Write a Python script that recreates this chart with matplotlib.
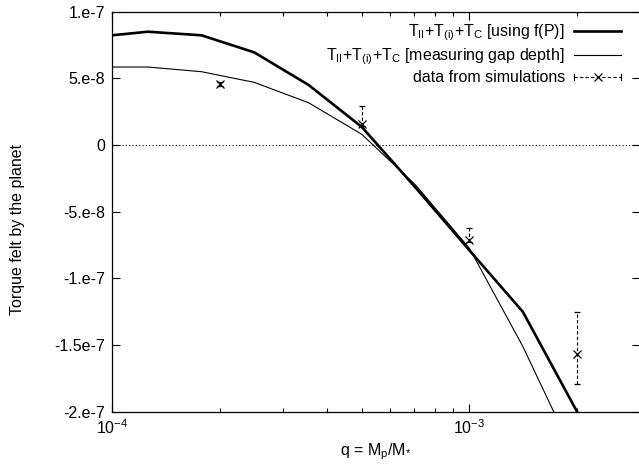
import matplotlib
matplotlib.use("Agg")
import matplotlib.pyplot as plt
import numpy as np
from matplotlib.legend_handler import HandlerBase
from matplotlib.lines import Line2D
from matplotlib.ticker import FixedLocator, FixedFormatter, LogLocator, NullFormatter

plt.rcParams['font.family'] = ['Liberation Sans', 'DejaVu Sans']
plt.rcParams['mathtext.fontset'] = 'custom'
plt.rcParams['mathtext.rm'] = 'Liberation Sans'
plt.rcParams['mathtext.it'] = 'Liberation Sans'

# model curves
q_model = [1e-4, 1.26e-4, 1.78e-4, 2.5e-4, 3.55e-4, 5e-4, 7.07e-4, 1e-3, 1.41e-3, 2e-3]
torque_fP = [8.23e-8, 8.5e-8, 8.23e-8, 6.95e-8, 4.5e-8, 1.35e-8, -3.2e-8, -7.9e-8, -12.5e-8, -20.0e-8]
torque_gap = [5.85e-8, 5.85e-8, 5.5e-8, 4.7e-8, 3.17e-8, 0.8e-8, -3.0e-8, -7.75e-8, -15.1e-8, -23.7e-8]

# simulation data
q_sim = [2e-4, 5e-4, 1e-3, 2e-3]
torque_sim = [4.57e-8, 1.58e-8, -7.13e-8, -15.7e-8]
torque_sim_low = [4.42e-8, 1.45e-8, -7.25e-8, -17.9e-8]
torque_sim_high = [4.72e-8, 2.93e-8, -6.2e-8, -12.55e-8]

ytick_vals = [1e-7, 5e-8, 0, -5e-8, -1e-7, -1.5e-7, -2e-7]
ytick_labels = ['1.e-7', '5.e-8', '0', '-5.e-8', '-1.e-7', '-1.5e-7', '-2.e-7']

label_fP = r'T$_{\rm II}$+T$_{\rm (i)}$+T$_{\rm C}$ [using f(P)]'
label_gap = r'T$_{\rm II}$+T$_{\rm (i)}$+T$_{\rm C}$ [measuring gap depth]'
label_sim = 'data from simulations'

FS = 11.5
W, H = 639, 466
fig = plt.figure(figsize=(W / 100, H / 100), dpi=100)
ax = fig.add_axes([112 / W, 1 - 411.7 / H, (640 - 112) / W, (411.7 - 11.7) / H])

ax.axhline(0, color='black', lw=0.8, ls=(0, (1, 2)))
l1, = ax.plot(q_model, torque_fP, color='black', lw=1.9)
l2, = ax.plot(q_model, torque_gap, color='black', lw=0.8)

ts = np.array(torque_sim)
yerr = [ts - np.array(torque_sim_low), np.array(torque_sim_high) - ts]
eb = ax.errorbar(q_sim, torque_sim, yerr=yerr, fmt='x', color='black', ms=6, mew=0.9,
                 elinewidth=0.8, capsize=2.5, capthick=0.8, ls='none')
eb[2][0].set_linestyle((0, (3, 2)))

ax.set_xscale('log')
ax.set_xlim(1e-4, 3e-3)
ax.set_ylim(-2e-7, 1e-7)

ax.yaxis.set_major_locator(FixedLocator(ytick_vals))
ax.yaxis.set_major_formatter(FixedFormatter(ytick_labels))
ax.xaxis.set_major_locator(LogLocator(base=10, numticks=10))
ax.xaxis.set_minor_locator(LogLocator(base=10, subs=np.arange(2, 10), numticks=20))
ax.xaxis.set_minor_formatter(NullFormatter())

ax.tick_params(which='both', direction='in', top=True, right=True, labelsize=FS, color='black')
ax.tick_params(which='major', length=6, width=0.8, pad=5)
ax.tick_params(which='minor', length=3, width=0.8)
for s in ax.spines.values():
    s.set_linewidth(0.9)

ax.set_xlabel(r'q = M$_{\rm p}$/M$_{*}$', fontsize=FS)
ax.xaxis.set_label_coords(0.5, -0.075)
ax.set_ylabel('Torque felt by the planet', fontsize=FS)
ax.yaxis.set_label_coords(-0.165, 0.455)


class ErrbarHandler(HandlerBase):
    def create_artists(self, legend, orig_handle, xdescent, ydescent, width, height, fontsize, trans):
        y = height / 2 - ydescent
        x0, x1 = -xdescent, width - xdescent
        cap = height * 0.25
        line = Line2D([x0, x1], [y, y], color='black', lw=0.8, ls=(0, (3, 2)), transform=trans)
        c1 = Line2D([x0, x0], [y - cap, y + cap], color='black', lw=0.8, transform=trans)
        c2 = Line2D([x1, x1], [y - cap, y + cap], color='black', lw=0.8, transform=trans)
        m = Line2D([(x0 + x1) / 2], [y], marker='x', color='black', ms=6, mew=0.9, ls='none', transform=trans)
        return [line, c1, c2, m]


dummy = Line2D([], [])
leg = ax.legend([l1, l2, dummy], [label_fP, label_gap, label_sim],
                handler_map={dummy: ErrbarHandler()},
                loc='upper right', bbox_to_anchor=(0.9727, 0.984),
                frameon=False, markerfirst=False, fontsize=FS,
                handlelength=2.9, handletextpad=0.6, labelspacing=0.2,
                borderaxespad=0.0, borderpad=0.3)

fig.savefig('out.png', dpi=100)
